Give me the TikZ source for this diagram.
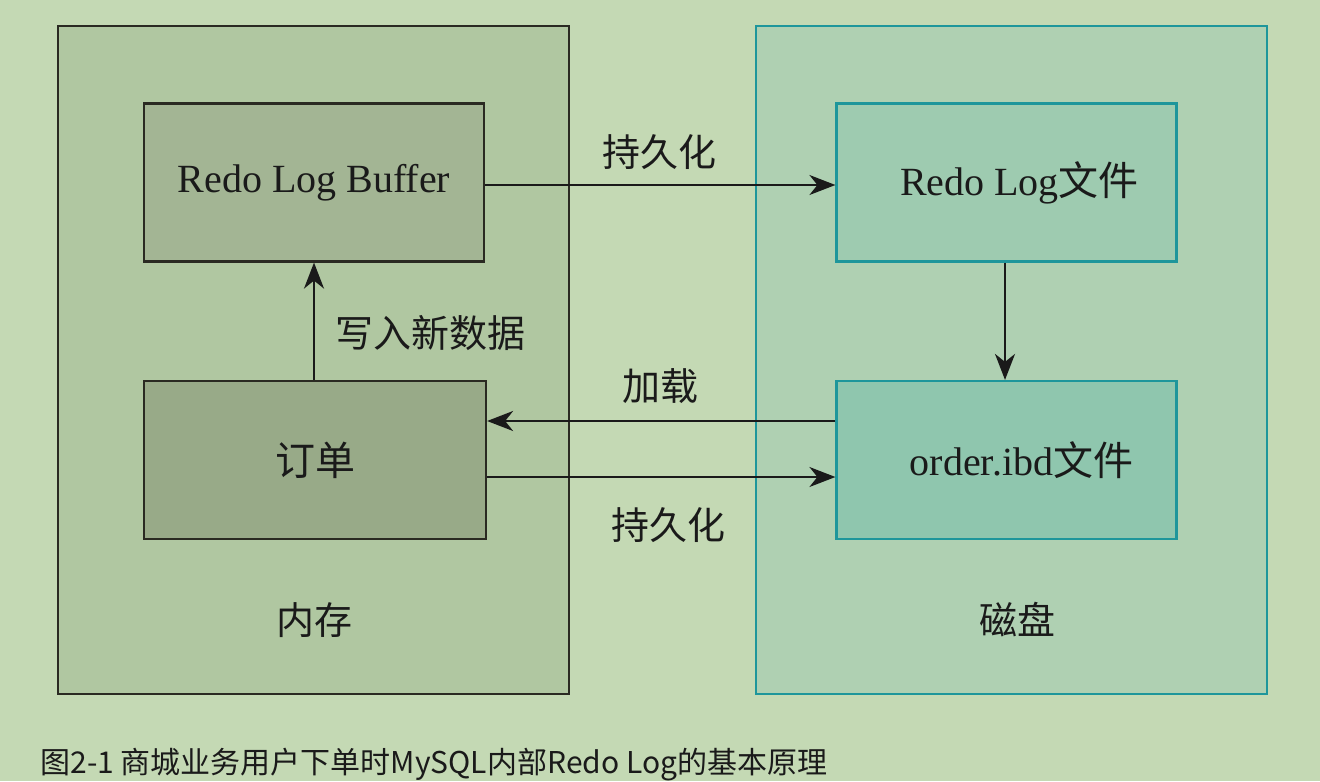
\documentclass[tikz,border=0pt]{standalone}
\usepackage{fontspec}
\setmainfont{Liberation Serif}
\newfontfamily\cjk{Noto Sans CJK SC}
\usetikzlibrary{arrows.meta}
\definecolor{bgc}{HTML}{C4D9B4}
\definecolor{memfill}{HTML}{B0C7A1}
\definecolor{rlbfill}{HTML}{A3B594}
\definecolor{ordfill}{HTML}{98AA88}
\definecolor{diskfill}{HTML}{AFD0B2}
\definecolor{rlffill}{HTML}{9ECBB0}
\definecolor{ibdfill}{HTML}{8FC6AE}
\definecolor{tealc}{HTML}{1E969B}
\definecolor{darkc}{HTML}{2A2A22}
\definecolor{txtc}{HTML}{1A1A1A}
\tikzset{
  outerbox/.style={draw, line width=1pt, minimum width=255.5pt, minimum height=334pt, inner sep=0pt},
  innerbox/.style={draw, line width=1.1pt, minimum width=170pt, minimum height=79pt, inner sep=0pt, font=\fontsize{20pt}{24pt}\selectfont, text=txtc},
  lbl/.style={font=\cjk\fontsize{19pt}{23pt}\selectfont, text=txtc, inner sep=0pt},
  arr/.style={line width=1.1pt, draw=txtc, -{Stealth[length=13pt,width=10pt,inset=4pt]}},
}
\begin{document}
\begin{tikzpicture}[x=0.5pt,y=-0.5pt]
\useasboundingbox[fill=bgc] (0,0) rectangle (1320,781);
% outer containers
\node[outerbox, draw=darkc, fill=memfill] (mem) at (313.5,360) {};
\node[outerbox, draw=tealc, fill=diskfill] (disk) at (1011,360) {};
% inner boxes
\node[innerbox, draw=darkc, fill=rlbfill] (rlb) at (314,182.5) {Redo Log Buffer};
\node[innerbox, draw=darkc, fill=ordfill, minimum width=171pt] (ord) at (315,460) {\cjk 订单};
\node[innerbox, draw=tealc, fill=rlffill] (rlf) at (1006.5,182.5) {\hspace*{13pt}Redo Log{\cjk 文件}};
\node[innerbox, draw=tealc, fill=ibdfill] (ibd) at (1006.5,460) {\hspace*{15pt}order.ibd{\cjk 文件}};
% helper coordinates
\coordinate (ytop) at (0,185);
\coordinate (yload) at (0,421);
\coordinate (ypers) at (0,477);
\coordinate (xup) at (314,0);
\coordinate (xdown) at (1005,0);
% connectors
\draw[arr] (rlb.east |- ytop) -- (rlf.west |- ytop);
\draw[arr] (ord.north -| xup) -- (rlb.south -| xup);
\draw[arr] (rlf.south -| xdown) -- (ibd.north -| xdown);
\draw[arr] (ibd.west |- yload) -- (ord.east |- yload);
\draw[arr] (ord.east |- ypers) -- (ibd.west |- ypers);
% labels
\node[lbl] (l1) at (659,152) {持久化};
\node[lbl] (l2) at (430,333) {写入新数据};
\node[lbl] (l3) at (660,386) {加载};
\node[lbl] (l4) at (668,525) {持久化};
\node[lbl] (l5) at (314,620) {内存};
\node[lbl] (l6) at (1017,620) {磁盘};
% caption
\node[anchor=west, inner sep=0pt, font=\cjk\fontsize{15pt}{18pt}\selectfont, text=txtc] (cap) at (40,765) {图2-1 商城业务用户下单时MySQL内部Redo Log的基本原理};
\end{tikzpicture}
\end{document}
